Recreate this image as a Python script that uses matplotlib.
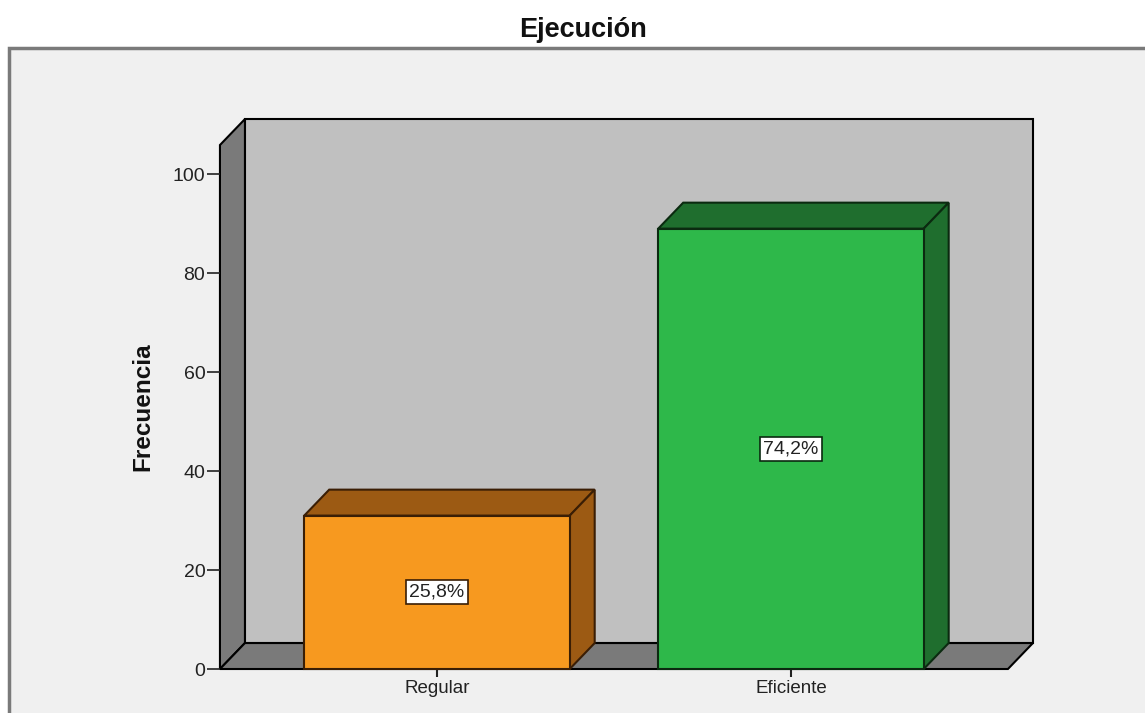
import matplotlib.pyplot as plt
from matplotlib.patches import Polygon, Rectangle

plt.rcParams["font.family"] = ["Liberation Sans", "DejaVu Sans"]

categorias = ["Regular", "Eficiente"]
frecuencia = [31, 89]
yticks = [0, 20, 40, 60, 80, 100]

colores_frente = ["#f7991f", "#2eb84a"]
colores_sombra = ["#9c5a13", "#1f6e2e"]
colores_borde = ["#3a1e05", "#0b2a10"]

total = sum(frecuencia)
porcentaje = [f / total * 100 for f in frecuencia]

fig = plt.figure(figsize=(11.45, 7.13), dpi=100)
fig.patch.set_facecolor("white")

# outer chart frame
fig.patches.append(Rectangle((9 / 1145, -0.1), 1.2, 1.0327, transform=fig.transFigure,
                             facecolor="#f0f0f0", edgecolor="#7a7a7a", lw=2.5, zorder=-10))

ax = fig.add_axes([0.1921, 0.0617, 0.6882, 0.7349])
ax.set_facecolor("none")
xmin, xmax = -0.613, 1.613
ymin, ymax = 0, 105.9
ax.set_xlim(xmin, xmax)
ax.set_ylim(ymin, ymax)
for s in ax.spines.values():
    s.set_visible(False)

# depth of the pseudo-3D box in data units
dx, dy = 0.0706, 5.25
ancho = 0.75


def cara(pts, fc, ec="black", z=1):
    ax.add_patch(Polygon(pts, closed=True, facecolor=fc, edgecolor=ec, lw=1.5,
                         joinstyle="miter", clip_on=False, zorder=z))


# back wall, side wall, floor
cara([(xmin + dx, dy), (xmax + dx, dy), (xmax + dx, ymax + dy), (xmin + dx, ymax + dy)], "#c0c0c0")
cara([(xmin, 0), (xmin + dx, dy), (xmin + dx, ymax + dy), (xmin, ymax)], "#7a7a7a")
cara([(xmin, 0), (xmax, 0), (xmax + dx, dy), (xmin + dx, dy)], "#7a7a7a")

for i, (v, p) in enumerate(zip(frecuencia, porcentaje)):
    x0, x1 = i - ancho / 2, i + ancho / 2
    ec = colores_borde[i]
    cara([(x0, v), (x1, v), (x1 + dx, v + dy), (x0 + dx, v + dy)], colores_sombra[i], ec, 2)
    cara([(x1, 0), (x1 + dx, dy), (x1 + dx, v + dy), (x1, v)], colores_sombra[i], ec, 2)
    cara([(x0, 0), (x1, 0), (x1, v), (x0, v)], colores_frente[i], ec, 3)
    etiqueta = f"{p:.1f}%".replace(".", ",")
    ax.text(i, v / 2, etiqueta, ha="center", va="center", fontsize=14, color="#222222", zorder=4,
            bbox=dict(boxstyle="square,pad=0.18", facecolor="white", edgecolor=ec, lw=1.2))

ax.set_xticks(range(len(categorias)))
ax.set_xticklabels(categorias, fontsize=13.5, color="#222222")
ax.set_yticks(yticks)
ax.set_yticklabels([str(t) for t in yticks], fontsize=14, color="#222222")
ax.tick_params(axis="y", direction="out", length=9.5, width=1.2, pad=1, color="#222222")
ax.tick_params(axis="x", direction="out", length=6, width=1.5, pad=2, color="#222222")

fig.text(0.509, 0.958, "Ejecución", ha="center", va="center", fontsize=19.5,
         fontweight="bold", color="#111111")
fig.text(0.125, 0.43, "Frecuencia", ha="center", va="center", rotation=90,
         fontsize=17.5, fontweight="bold", color="#111111")

fig.savefig("out.png", dpi=100, facecolor="white")
